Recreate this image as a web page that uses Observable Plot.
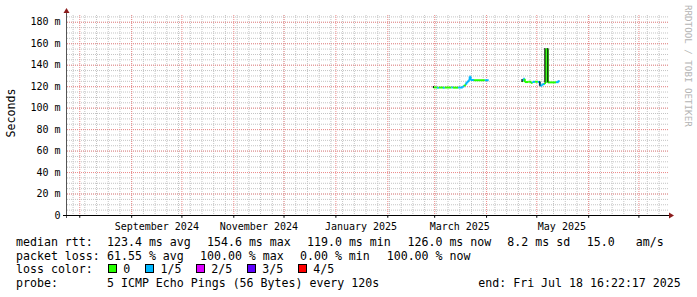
<!DOCTYPE html>
<html><head><meta charset="utf-8">
<script src="https://cdn.jsdelivr.net/npm/d3@7"></script>
<script src="https://cdn.jsdelivr.net/npm/@observablehq/plot@0.6"></script>
<style>
html,body{margin:0;padding:0;background:#fff;}
body{width:697px;height:297px;overflow:hidden;position:relative;font-family:"DejaVu Sans Mono",monospace;}
#chart{position:absolute;left:0;top:0;}
.lg{position:absolute;font-size:11.6px;line-height:14px;white-space:pre;color:#000;}
.box{position:absolute;width:7px;height:7px;border:1px solid #000;}
</style></head><body>
<div id="chart"></div>
<div id="legend"></div>
<script>
// ---------- data ----------
const timeDomain = ["2024-07-24T16:00:00Z", "2025-07-18T16:22:17Z"];
const yDomain = [0, 186.3];
const yTicks = [0, 20, 40, 60, 80, 100, 120, 140, 160, 180];
const xLabelDates = ["2024-09-16", "2024-11-16", "2025-01-16", "2025-03-16", "2025-05-16"];
const xLabels = ["September 2024", "November 2024", "January 2025", "March 2025", "May 2025"];

// median rtt (ms) with loss class index, two observed segments
const segId = [1,1,1,1,1,1,1,1,1,1,1,1,1,1,1,1,1, 2,2,2,2,2,2,2,2,2,2,2,2,2,2,2];
const times = [
  "2025-02-28T06:00Z","2025-03-02T12:00Z","2025-03-03T12:00Z","2025-03-06T00:00Z","2025-03-07T00:00Z",
  "2025-03-11T00:00Z","2025-03-12T00:00Z","2025-03-15T00:00Z","2025-03-17T18:00Z","2025-03-18T22:00Z",
  "2025-03-19T20:00Z","2025-03-21T00:00Z","2025-03-21T22:00Z","2025-03-22T12:00Z","2025-03-24T12:00Z",
  "2025-03-31T00:00Z","2025-04-02T06:00Z",
  "2025-04-22T04:00Z","2025-04-22T22:00Z","2025-04-23T20:00Z","2025-04-26T00:00Z","2025-04-27T12:00Z",
  "2025-04-28T12:00Z","2025-04-30T00:00Z","2025-05-01T16:00Z","2025-05-02T20:00Z","2025-05-04T08:00Z",
  "2025-05-05T20:00Z","2025-05-06T10:00Z","2025-05-07T14:00Z","2025-05-12T12:00Z","2025-05-14T02:00Z"
];
const medianMs = [
  119.3,119.1,119.2,119.0,119.2, 119.3,119.1,119.2,120.4,121.8, 124.0,125.8,129.5,126.2,126.0, 126.0,126.0,
  125.2,127.3,124.3,124.6,123.6, 124.5,124.6,124.4,121.0,122.4, 123.5,155.0,124.0,124.2,126.0
];
const lossIdx = [
  0,1,0,1,0, 1,0,1,1,0, 1,1,1,1,0, 1,1,
  0,1,0,0,0, 1,0,1,1,1, 0,0,0,1,1
];
// smoke (ping spread) spikes
const smokeTimes = ["2025-02-28T06:00Z","2025-04-22T04:00Z","2025-05-02T20:00Z","2025-05-05T20:00Z","2025-05-07T14:00Z"];
const smokeLo = [118.4, 124.0, 120.4, 123.5, 123.5];
const smokeHi = [120.2, 126.6, 124.6, 155.6, 155.6];

const lossColors = ["#26ff00", "#00b8ff", "#dd00ff", "#5e00ff", "#ff0000"];
const lossNames = ["0", "1/5", "2/5", "3/5", "4/5"];

const rttLegend = ["median rtt:", "123.4 ms avg", "154.6 ms max", "119.0 ms min", "126.0 ms now", "8.2 ms sd", "15.0", "am/s"];
const lossLegend = ["packet loss:", "61.55 % avg", "100.00 % max", "0.00 % min", "100.00 % now"];
const colorLegendTitle = "loss color:";
const probeLegend = ["probe:", "5 ICMP Echo Pings (56 Bytes) every 120s", "end: Fri Jul 18 16:22:17 2025"];
const yAxisTitle = "Seconds";
const watermark = "RRDTOOL / TOBI OETIKER";

// ---------- build ----------
const parse = s => new Date(s);
const pts = times.map((t, i) => ({t: parse(t), v: medianMs[i], c: lossColors[lossIdx[i]], s: segId[i]}));
const segs = [];
for (let i = 0; i < pts.length - 1; i++) {
  const a = pts[i], b = pts[i + 1];
  if (a.s !== b.s) continue;
  segs.push({x1: a.t, x2: b.t, y1: a.v, y2: a.v, c: a.c});
  segs.push({x1: b.t, x2: b.t, y1: a.v, y2: b.v, c: b.c});
}
const smoke = smokeTimes.map((t, i) => ({t: parse(t), lo: smokeLo[i], hi: smokeHi[i]}));

const W = 697, H = 236, ML = 67, MR = 29, MT = 15, MB = 21;
const x0 = parse(timeDomain[0]), x1 = parse(timeDomain[1]);
const weeks = d3.utcSunday.range(x0, x1);
const months = d3.utcMonth.range(x0, x1);
const labelDates = xLabelDates.map(d => parse(d + "T00:00:00Z"));
const minorY = d3.range(0, yDomain[1], 5);
const majorY = yTicks.filter(d => d > 0);

const minorStyle = {stroke: "#c4c4c4", strokeDasharray: "1,1", strokeWidth: 1};
const majorStyle = {stroke: "#ee8a8a", strokeDasharray: "1,1", strokeWidth: 1};

const chart = Plot.plot({
  width: W, height: H,
  marginLeft: ML, marginRight: MR, marginTop: MT, marginBottom: MB,
  style: {fontFamily: "DejaVu Sans Mono, monospace", fontSize: "10px", color: "#000", background: "#fff", overflow: "visible"},
  x: {type: "utc", domain: [x0, x1], ticks: labelDates, tickSize: 0, tickPadding: 7, label: null,
      tickFormat: d => xLabels[labelDates.findIndex(t => +t === +d)]},
  y: {domain: yDomain, ticks: yTicks, tickSize: 0, tickPadding: 7, label: null,
      tickFormat: d => d === 0 ? "0" : d + " m"},
  marks: [
    Plot.ruleY(minorY, minorStyle),
    Plot.ruleX(weeks, minorStyle),
    Plot.ruleY(majorY, majorStyle),
    Plot.ruleX(months, majorStyle),
    Plot.link(segs, {x1: "x1", y1: "y1", x2: "x2", y2: "y2", stroke: "c", strokeWidth: 2, strokeLinecap: "butt"}),
    Plot.ruleX(smoke, {x: "t", y1: "lo", y2: "hi", stroke: "#111", strokeWidth: 1.2}),
    Plot.ruleX(months, {y1: 0, y2: -2.6, stroke: "#000", strokeWidth: 1})
  ]
});
document.getElementById("chart").appendChild(chart);

const svg = d3.select(chart.tagName.toLowerCase() === "svg" ? chart : chart.querySelector("svg"));
const bottom = H - MB, right = W - MR;
// axes
svg.append("line").attr("x1", ML - 0.5).attr("x2", ML - 0.5).attr("y1", bottom + 3).attr("y2", MT - 2)
  .attr("stroke", "#555").attr("stroke-width", 1);
svg.append("line").attr("x1", ML - 4).attr("x2", right + 1).attr("y1", bottom + 0.5).attr("y2", bottom + 0.5)
  .attr("stroke", "#000").attr("stroke-width", 1);
svg.append("path").attr("d", `M${ML-3.5},${MT-2}L${ML+2.5},${MT-2}L${ML-0.5},${MT-7}Z`).attr("fill", "#8b1c1c");
svg.append("path").attr("d", `M${right+1},${bottom-2.5}L${right+1},${bottom+3.5}L${right+6},${bottom+0.5}Z`).attr("fill", "#8b1c1c");
// titles
svg.append("text").attr("transform", "translate(15,113) rotate(-90)").attr("text-anchor", "middle")
  .attr("font-family", "DejaVu Sans Mono").attr("font-size", "11.6px").attr("fill", "#000").text(yAxisTitle);
svg.append("text").attr("transform", "translate(685,5) rotate(90)").attr("text-anchor", "start")
  .attr("font-family", "DejaVu Sans Mono").attr("font-size", "9.2px").attr("fill", "#b4b4b4").text(watermark);

// ---------- legend ----------
const lg = document.getElementById("legend");
function addText(txt, left, top) {
  const d = document.createElement("div");
  d.className = "lg"; d.style.left = left + "px"; d.style.top = top + "px"; d.textContent = txt;
  lg.appendChild(d);
}
const rowTop = [234.7, 248.5, 262.3, 276.3];
const rttX = [16, 107, 207, 307, 407.5, 507.3, 586.7, 635.7];
rttLegend.forEach((t, i) => addText(t, rttX[i], rowTop[0]));
const lossX = [16, 107, 200, 300, 386.7];
lossLegend.forEach((t, i) => addText(t, lossX[i], rowTop[1]));
addText(colorLegendTitle, 16, rowTop[2]);
const boxX = [108, 145.3, 196, 247, 298];
lossNames.forEach((n, i) => {
  const b = document.createElement("div");
  b.className = "box"; b.style.left = boxX[i] + "px"; b.style.top = "264.3px"; b.style.background = lossColors[i];
  lg.appendChild(b);
  addText(n, boxX[i] + 15.3, rowTop[2]);
});
const probeX = [16, 107, 478.3];
probeLegend.forEach((t, i) => addText(t, probeX[i], rowTop[3]));
</script></body></html>
